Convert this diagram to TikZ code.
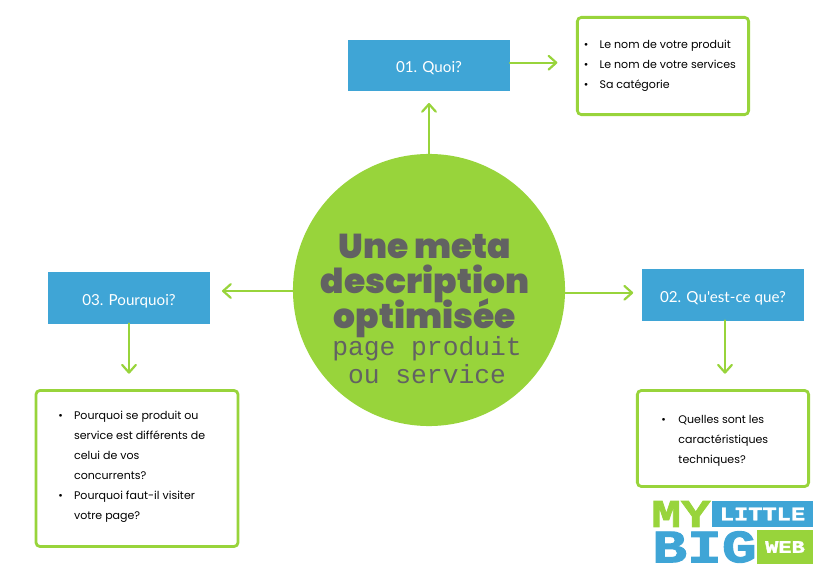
\documentclass[tikz,border=0pt]{standalone}
\usepackage{fontspec}
\setmainfont{Poppins}
\newfontfamily\titlefont{Poppins Black}
\newfontfamily\slabfont{Liberation Mono}
\newfontfamily\boxfont{Lato}
\newfontfamily\logofont[FakeStretch=1.25, BoldFeatures={FakeBold=2}]{Liberation Mono}
\newcommand\tightlines{\lineskiplimit=-20pt\relax}
\usepackage{tikz}
\usetikzlibrary{arrows.meta}
\definecolor{leaf}{HTML}{98D43B}
\definecolor{sky}{HTML}{3FA5D6}
\definecolor{ink}{HTML}{626262}
\tikzset{
    bluebox/.style={fill=sky, text=white, font=\boxfont\fontsize{10.8}{12}\selectfont, text height=12pt, text depth=1.5pt, minimum width=4.05cm, minimum height=1.275cm, inner sep=0, outer sep=0},
    listbox/.style={draw=leaf, line width=0.07cm, fill=white, rounded corners=0.1cm, inner sep=0, outer sep=0},
    listtext/.style={anchor=west, inner sep=0, font=\fontsize{7.85}{14.2}\selectfont, align=left},
    link/.style={draw=leaf, line width=0.055cm, line cap=round, -{Straight Barb[length=0.19cm, width=0.34cm, line width=0.055cm, round]}},
    logobox/.style={inner sep=0, outer sep=0, text=white}
}
\begin{document}
\begin{tikzpicture}[x=0.025cm, y=-0.025cm]
    \useasboundingbox (0,0) rectangle (837,584);

    \node[circle, fill=leaf, minimum size=6.8cm, inner sep=0, outer sep=0] (centre) at (429,290) {};
    \node[inner sep=0, text=ink, align=center, font=\titlefont\fontsize{24.5}{24.7}\selectfont\tightlines] (title) at (425,286) {Une meta\\description\\optimisée};
    \node[inner sep=0, text=ink, align=center, font=\slabfont\fontsize{18.7}{20}\selectfont\tightlines] (subtitle) at (427,360.5) {page produit\\ou service};

    \node[bluebox] (quoi) at (429,65.5) {01. Quoi?};
    \node[bluebox] (quest) at (723,295) {02. Qu'est-ce que?};
    \node[bluebox] (pourquoi) at (129,298) {03. Pourquoi?};

    \node[listbox, minimum width=4.28cm, minimum height=2.43cm] (listquoi) at (663,66) {};
    \node[listbox, minimum width=4.28cm, minimum height=2.4cm] (listquest) at (723,438.5) {};
    \node[listbox, minimum width=5.05cm, minimum height=3.9cm] (listpourquoi) at (137,468.5) {};

    \node[listtext] (textquoi) at (583.5,64.3) {\begin{tabular}{@{}l@{\hspace{8pt}}l@{}}
        \textbullet & Le nom de votre produit\\
        \textbullet & Le nom de votre services\\
        \textbullet & Sa catégorie
    \end{tabular}};
    \node[listtext] (textquest) at (661,439.5) {\begin{tabular}{@{}l@{\hspace{9pt}}l@{}}
        \textbullet & Quelles sont les\\
         & caractéristiques\\
         & techniques?
    \end{tabular}};
    \node[listtext] (textpourquoi) at (58,465.5) {\begin{tabular}{@{}l@{\hspace{8pt}}l@{}}
        \textbullet & Pourquoi se produit ou\\
         & service est différents de\\
         & celui de vos\\
         & concurrents?\\
        \textbullet & Pourquoi faut-il visiter\\
         & votre page?
    \end{tabular}};

    \draw[link, shorten >=0.3cm] (centre.north) -- (quoi.south);
    \draw[link, shorten >=0.5cm] ([yshift=0.07cm]quoi.east) -- ([yshift=0.07cm]quoi.east -| listquoi.west);
    \draw[link, shorten >=0.22cm] ([yshift=-0.07cm]centre.east) -- ([yshift=-0.07cm]centre.east -| quest.west);
    \draw[link, shorten >=0.42cm] ([xshift=0.05cm]quest.south) -- ([xshift=0.05cm]quest.south |- listquest.north);
    \draw[link, shorten >=0.3cm] ([yshift=-0.025cm]centre.west) -- ([yshift=-0.025cm]centre.west -| pourquoi.east);
    \draw[link, shorten >=0.42cm] (pourquoi.south) -- (pourquoi.south |- listpourquoi.north);

    % logo
    \node[logobox, text=leaf, font=\logofont\bfseries\fontsize{28}{28}\selectfont] (my) at (681,514) {MY};
    \node[logobox, fill=sky, minimum width=2.52cm, minimum height=0.66cm, font=\logofont\bfseries\fontsize{13.5}{14}\selectfont] (little) at (762.5,514) {LITTLE};
    \node[logobox, text=sky, font=\logofont\bfseries\fontsize{33}{33}\selectfont] (big) at (704.5,547) {BIG};
    \node[logobox, fill=leaf, minimum width=1.38cm, minimum height=0.85cm, font=\logofont\bfseries\fontsize{12.5}{13}\selectfont] (web) at (785,547) {WEB};
\end{tikzpicture}
\end{document}
